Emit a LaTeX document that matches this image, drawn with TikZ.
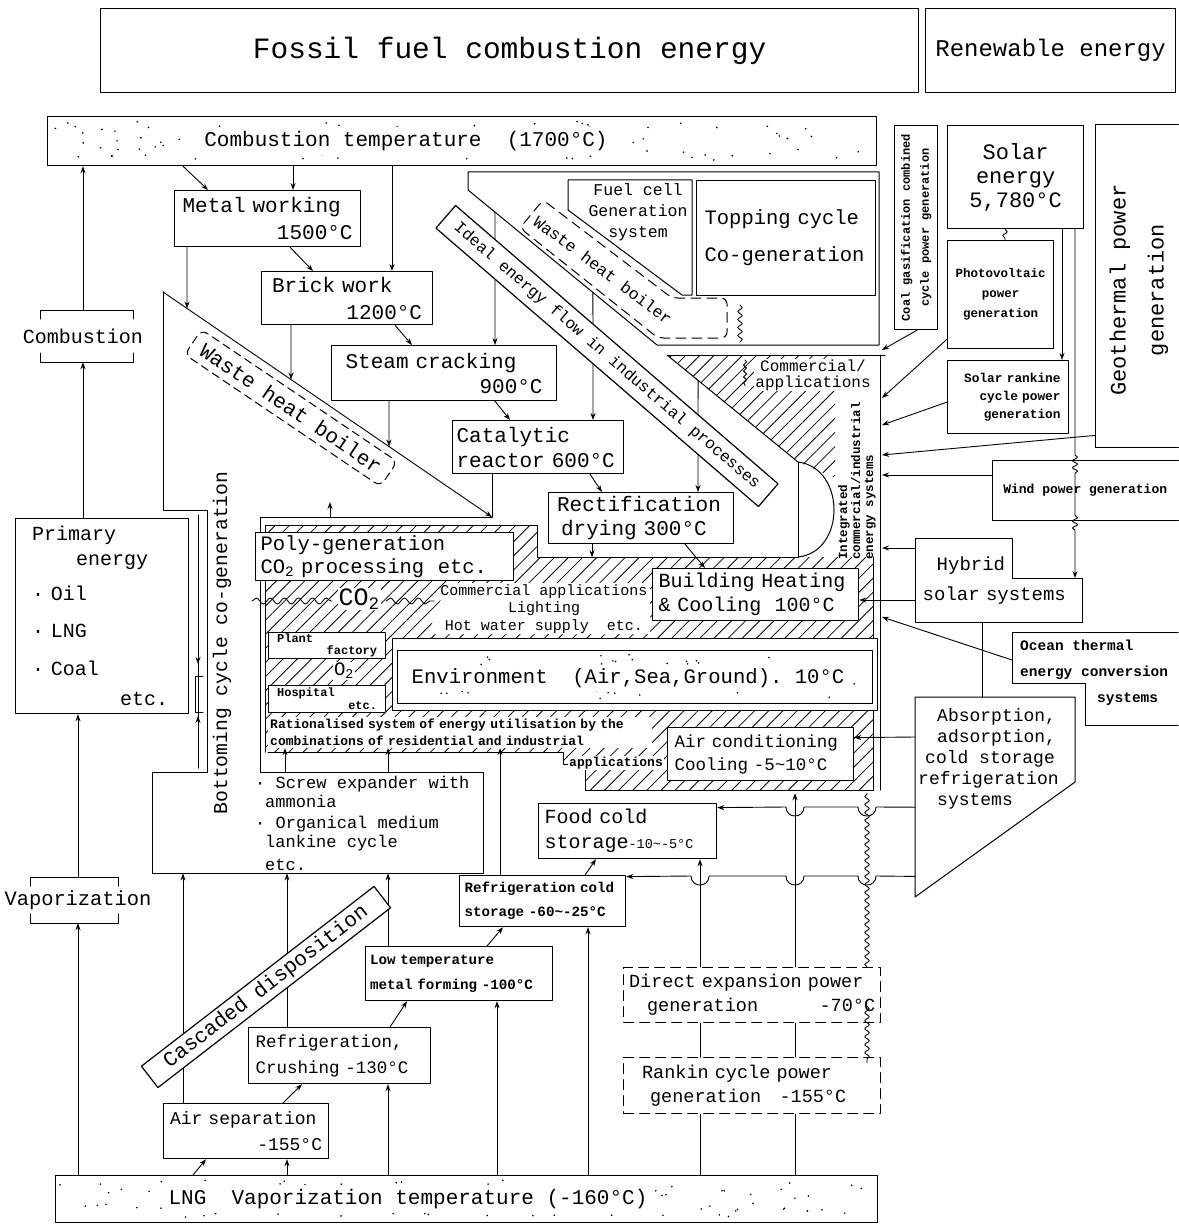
\documentclass[tikz,border=0pt]{standalone}
\usepackage{fontspec}
\setmainfont{Liberation Mono}
\usetikzlibrary{arrows.meta,calc,patterns.meta,decorations.pathmorphing}

\newcommand\fz[2]{\fontsize{#1}{#2}\selectfont}
\newcommand\speckle[5]{%
  \foreach \spk in {1,...,#5}{%
    \pgfmathsetmacro\sx{#1+rnd*(#3-#1)}%
    \pgfmathsetmacro\sy{#2+rnd*(#4-#2)}%
    \fill (\sx,\sy) circle (0.9pt);}}

\begin{document}
\begin{tikzpicture}[
  x=1pt, y=-1pt,
  line cap=round, line join=round,
  box/.style={draw, line width=1.2pt, fill=white, inner sep=0pt, anchor=north west},
  dbox/.style={box, dash pattern=on 10pt off 6pt},
  area/.style={inner sep=0pt, anchor=north west},
  txt/.style={inner sep=0pt, align=left},
  band/.style={draw, line width=1.2pt, fill=white, inner sep=0pt},
  ln/.style={line width=1pt},
  arr/.style={-{Stealth[length=7pt,width=5pt]}, line width=0.9pt},
  hatch/.style={pattern={Lines[angle=45,distance=10pt,line width=0.8pt]}},
  wavy/.style={line width=0.9pt, decorate, decoration={snake, amplitude=2.2pt, segment length=8pt}}
]
\useasboundingbox (0,0) rectangle (1178,1225);
\pgfmathsetseed{7}

\node[box, minimum width=818pt, minimum height=84pt, font=\fz{29.5}{34}] (fossil) at (100,8) {Fossil fuel combustion energy};
\node[box, minimum width=250pt, minimum height=84pt, font=\fz{24}{28}] (renew) at (925,8) {Renewable energy};

\node[box, minimum width=829pt, minimum height=49pt] (combbar) at (47,116) {};
\speckle{52}{121}{871}{160}{95}
\node[txt, fill=white, inner sep=4pt, font=\fz{21}{25}] (combtxt) at (406,141) {Combustion temperature~~(1700°C)};
\node[box, minimum width=822pt, minimum height=47pt] (lngbar) at (55,1175) {};
\speckle{60}{1180}{872}{1217}{95}
\node[txt, fill=white, inner sep=4pt, font=\fz{21}{25}] (lngtxt) at (408,1199) {LNG~~Vaporization temperature (-160°C)};

\fill[hatch] (265,525) -- (537,525) -- (537,557) -- (873,557) -- (873,790) -- (585,790) -- (585,764) -- (563,764) -- (563,752) -- (265,752) -- cycle;
\fill[hatch] (667,355) -- (835,355) -- (835,478) -- (798,462) -- cycle;
\fill[white] (447,583) -- (650,583) -- (650,634) -- (428,634) -- cycle;

\coordinate (whbA) at (163,292);
\coordinate (whbB) at (492,517);
\coordinate (tfA) at (468,190);
\coordinate (tfB) at (657,345);
\coordinate (hA) at (667,355);
\coordinate (hB) at (798,462);
\node[area, minimum width=331pt, minimum height=101pt] (screw) at (152,772) {};
\draw[ln] (whbB) -- (260,517) -- (260,772) -- (483,772) -- (483,873) -- (152,873) -- (152,772) -- (207,772) -- (207,510) -- (163,510) -- (whbA);
\draw[arr] (whbA) -- (whbB);
\draw[ln] (265,752) -- (265,525) -- (537,525) -- (537,557) -- (798,557);
\draw[ln] (268,752) -- (563,752) -- (563,764) -- (585,764) -- (585,790) -- (873,790) -- (873,557);
\draw[ln] (198,515) -- (198,768);
\draw[arr] (198,640) -- (198,664);
\draw[arr] (198,738) -- (198,716);
\draw[ln] (203,676) -- (195,676) -- (195,712) -- (203,712);
\draw[ln] (tfA) -- (468,172) -- (879,172) -- (879,345) -- (tfB) -- cycle;
\draw[ln] (hA) -- (885,355);
\draw[ln] (hA) -- (hB) .. controls (846,468) and (846,552) .. (798,557);
\draw[ln] (hB) -- (798,557);
\draw[ln] (880,355) -- (880,790);
\draw[ln] (568,180) -- (692,180) -- (692,295) -- (682,295) -- (568,210) -- cycle;
\draw[ln, dash pattern=on 10pt off 6pt, rounded corners=6pt] (520,228) -- (543,200) -- (672,298) -- (727,298) -- (727,338) -- (658,338) -- cycle;
\draw[wavy] (740,305) -- (740,342);
\draw[wavy, decoration={amplitude=1.5pt, segment length=6pt}] (745,360) -- (745,386);

\node[txt, minimum height=52pt, font=\fz{20}{24}] (combst) at (83,336) {Combustion};
\draw[ln] (40,319) |- (133,310) -- (133,319);
\draw[ln] (40,353) |- (133,362) -- (133,353);
\node[box, minimum width=173pt, minimum height=195pt, text width=140pt, align=left, font=\fz{20}{25}] (primary) at (15,518) {Primary\\\hspace*{44pt}energy\\[10pt]· Oil\\[12pt]· LNG\\[13pt]· Coal\\[5pt]\hspace*{88pt}etc.};
\node[txt, minimum height=46pt, font=\fz{20.4}{24}] (vapor) at (78,900) {Vaporization};
\draw[ln] (30,886) |- (118,877) -- (118,886);
\draw[ln] (30,914) |- (118,923) -- (118,914);
\draw[arr] (combst.north) -- (combbar.south -| combst.north);
\draw[arr] (primary.north -| combst.south) -- (combst.south);
\draw[arr] (vapor.north) -- (primary.south -| vapor.north);
\draw[arr] (lngbar.north -| vapor.south) -- (vapor.south);

\node[box, minimum width=186pt, minimum height=56pt, text width=170pt, align=left, font=\fz{21}{27}] (metal) at (174,190) {Metal working\\\mbox{}\hfill1500°C};
\node[box, minimum width=171pt, minimum height=53pt, text width=150pt, align=left, font=\fz{21}{27}] (brick) at (261,271) {Brick work\\\mbox{}\hfill1200°C};
\node[box, minimum width=225pt, minimum height=55pt, text width=197pt, align=left, font=\fz{21}{25}] (steam) at (331,345) {Steam cracking\\\mbox{}\hfill900°C};
\node[box, minimum width=171pt, minimum height=53pt, text width=163pt, align=left, font=\fz{21}{25}] (catal) at (452,420) {Catalytic\\reactor 600°C};
\node[box, minimum width=185pt, minimum height=51pt, text width=168pt, align=left, font=\fz{21}{24}] (rectif) at (548,492) {Rectification\\\hspace*{4pt}drying 300°C};
\node[box, minimum width=179pt, minimum height=115pt, text width=163pt, align=left, font=\fz{20.5}{37}] (topping) at (696,180) {Topping cycle\\Co-generation};
\node[txt, align=center, font=\fz{16.5}{21}] (fuel) at (638,212) {Fuel cell\\Generation\\system};
\node[rotate=-37, font=\fz{16.5}{20}] (whbu) at (603,270) {Waste heat boiler};
\node[draw, dash pattern=on 8pt off 5pt, line width=1pt, rounded corners=7pt, rotate=-34, minimum width=236pt, minimum height=30pt, inner sep=1pt, font=\fz{21}{25}] (whbl) at (291,408) {Waste heat boiler};
\node[rotate=90, font=\fz{19.7}{24}] (botcyc) at (222,643) {Bottoming cycle co-generation};
\node[txt, anchor=north west, font=\fz{17}{19}] (screwtxt) at (255,776) {· Screw expander with\\\hspace*{10pt}ammonia\\[2pt]· Organical medium\\\hspace*{10pt}lankine cycle\\[4pt]\hspace*{10pt}etc.};

\node[box, minimum width=258pt, minimum height=48pt, text width=248pt, align=left, font=\fz{20.5}{23}] (poly) at (255,532) {Poly-generation\\CO\textsubscript{2} processing~~etc.};
\node[txt, align=center, font=\fz{15}{17.5}] (commtxt) at (544,609) {Commercial applications\\Lighting\\Hot water supply~~etc.};
\draw[wavy, decoration={amplitude=3pt, segment length=14pt}] (252,601) -- (332,601);
\draw[wavy, decoration={amplitude=3pt, segment length=14pt}] (386,601) -- (434,601);
\node[txt, fill=white, inner sep=1pt, font=\fz{25}{25}] (co2) at (359,599) {CO\textsubscript{2}};
\node[box, minimum width=117pt, minimum height=26pt, text width=100pt, align=left, font=\bfseries\fz{12}{12}] (plant) at (268,632) {Plant\\\mbox{}\hfill factory};
\node[txt, fill=white, inner sep=1pt, font=\fz{19}{19}] (o2) at (344,671) {O\textsubscript{2}};
\node[box, minimum width=117pt, minimum height=27pt, text width=100pt, align=left, font=\bfseries\fz{12}{13}] (hosp) at (268,685) {Hospital\\\mbox{}\hfill etc.};
\node[box, minimum width=485pt, minimum height=72pt] (envout) at (392,638) {};
\node[box, minimum width=475pt, minimum height=53pt] (env) at (397,650) {};
\speckle{402}{654}{867}{699}{55}
\node[txt, fill=white, inner sep=3pt, font=\fz{20.6}{24}] (envtxt) at (628,678) {Environment~~(Air,Sea,Ground).~10°C};
\node[txt, anchor=north west, fill=white, inner sep=2pt, text width=380pt, font=\bfseries\fz{13}{17}] (ration) at (268,717) {Rationalised system of energy utilisation by the\\combinations of residential and industrial};
\node[txt, fill=white, inner sep=1pt, font=\bfseries\fz{13}{15}] (applic) at (616,763) {applications};
\node[txt, fill=white, inner sep=1pt, align=center, font=\fz{16}{16}] (comm) at (813,375) {Commercial/\\applications};
\node[box, minimum width=206pt, minimum height=52pt, text width=194pt, align=left, font=\fz{20}{24}] (bldg) at (652,568) {Building Heating\\\&~Cooling~~100°C};
\node[box, minimum width=186pt, minimum height=53pt, text width=172pt, align=left, font=\fz{17.5}{23}] (aircon) at (667,727) {Air conditioning\\Cooling -5\textasciitilde10°C};
\node[box, minimum width=178pt, minimum height=55pt, text width=166pt, align=left, font=\fz{20}{25}] (food) at (538,803) {Food cold\\storage{\fz{13.5}{15}-10\textasciitilde-5°C}};
\node[box, minimum width=166pt, minimum height=51pt, text width=156pt, align=left, font=\bfseries\fz{14.2}{24}] (refcs) at (459,875) {Refrigeration cold\\storage -60\textasciitilde-25°C};
\node[box, minimum width=187pt, minimum height=54pt, text width=178pt, align=left, font=\bfseries\fz{14.2}{25}] (lowt) at (365,946) {Low temperature\\metal forming -100°C};
\node[box, minimum width=182pt, minimum height=56pt, text width=168pt, align=left, font=\fz{17.5}{26}] (refcr) at (248,1027) {Refrigeration,\\Crushing -130°C};
\node[box, minimum width=165pt, minimum height=55pt, text width=152pt, align=left, font=\fz{18}{26}] (airsep) at (163,1103) {Air separation\\\mbox{}\hfill-155°C};
\node[dbox, minimum width=257pt, minimum height=55pt, text width=246pt, align=left, font=\fz{18.5}{24}] (direct) at (623,967) {Direct expansion power\\\hspace*{18pt}generation\hfill-70°C};
\node[dbox, minimum width=257pt, minimum height=56pt, text width=240pt, align=left, font=\fz{18.5}{24}] (rankin) at (623,1057) {\hspace*{10pt}Rankin cycle power\\\hspace*{18pt}generation~~~-155°C};

\node[box, minimum width=43pt, minimum height=204pt] (coal) at (894,125) {};
\node[rotate=90, align=center, font=\bfseries\fz{12}{19}] (coaltxt) at (coal.center) {Coal gasification combined\\cycle power generation};
\node[box, minimum width=136pt, minimum height=103pt, align=center, font=\fz{22}{24}] (solar) at (947,125) {Solar\\energy\\5,780°C};
\node[box, minimum width=106pt, minimum height=108pt, align=center, font=\bfseries\fz{12.5}{20}] (pv) at (947,240) {Photovoltaic\\power\\generation};
\node[box, minimum width=121pt, minimum height=73pt, text width=105pt, align=right, font=\bfseries\fz{12.8}{18}] (srank) at (947,360) {Solar rankine\\cycle power\\generation};
\node[area, minimum width=83pt, minimum height=322pt] (geo) at (1095,125) {};
\draw[ln] (geo.north east) -- (geo.north west) -- (geo.south west) -- (geo.south east);
\node[rotate=90, align=center, font=\fz{22}{38}] (geotxt) at (1139,290) {Geothermal power\\generation};
\node[area, minimum width=186pt, minimum height=60pt, font=\bfseries\fz{13}{15}] (wind) at (992,460) {Wind power generation};
\draw[ln] (wind.north east) -- (wind.north west) -- (wind.south west) -- (wind.south east);
\node[area, minimum width=167pt, minimum height=84pt, text width=152pt, align=left, font=\fz{19}{30}] (hyb) at (915,538) {\hspace*{14pt}Hybrid\\solar systems};
\draw[ln] (915,538) -- (1012,538) -- (1012,578) -- (1082,578) -- (1082,622) -- (915,622) -- cycle;
\node[area, minimum width=166pt, minimum height=93pt] (ocean) at (1012,632) {};
\draw[ln] (1178,632) -- (1012,632) -- (1012,683) -- (1085,683) -- (1085,725) -- (1178,725);
\node[txt, anchor=north west, font=\bfseries\fz{14.5}{26}] (oceantxt) at (1020,640) {Ocean thermal\\energy conversion\\\hspace*{77pt}systems};
\node[area, minimum width=160pt, minimum height=200pt] (absorb) at (915,697) {};
\draw[ln] (915,697) -- (1075,697) -- (1075,782) -- (915,897) -- cycle;
\node[txt, anchor=north west, font=\fz{18}{21}] (abstxt) at (918,708) {\hspace*{19pt}Absorption,\\\hspace*{19pt}adsorption,\\\hspace*{7pt}cold storage\\refrigeration\\\hspace*{19pt}systems};
\node[rotate=90, align=left, font=\bfseries\fz{12.5}{13}] (integ) at (857,481) {Integrated\\commercial/industrial\\energy systems};

\draw[arr] ([xshift=136pt]combbar.south west) -- ([xshift=34pt]metal.north west);
\draw[arr] ([xshift=246pt]combbar.south west) -- ([xshift=119pt]metal.north west);
\draw[arr] ([xshift=345pt]combbar.south west) -- ([xshift=131pt]brick.north west);
\draw[arr] ([xshift=116pt]metal.south west) -- ([xshift=52pt]brick.north west);
\draw[arr] ([xshift=134pt]brick.south west) -- ([xshift=81pt]steam.north west);
\draw[arr] ([xshift=164pt]steam.south west) -- ([xshift=58pt]catal.north west);
\draw[arr] ([xshift=138pt]catal.south west) -- ([xshift=54pt]rectif.north west);
\draw[arr] ([xshift=137pt]rectif.south west) -- ([xshift=53pt]bldg.north west);
\draw[arr] ([xshift=13pt]metal.south west) -- ($(whbA)!0.073!(whbB)$);
\draw[arr] ([xshift=30pt]brick.south west) -- ($(whbA)!0.389!(whbB)$);
\draw[arr] ([xshift=58pt]steam.south west) -- ($(whbA)!0.687!(whbB)$);
\draw[ln] ([xshift=40pt]catal.south west) -- (whbB);
\draw[arr] ([xshift=44pt]rectif.south west) -- ([xshift=44pt,yshift=-13pt]rectif.south west);
\draw[arr] ($(tfA)!0.143!(tfB)$) -- ([xshift=164pt]steam.north west);
\draw[arr] ($(tfA)!0.661!(tfB)$) -- ([xshift=141pt]catal.north west);
\draw[arr] ($(hA)!0.237!(hB)$) -- ([xshift=150pt]rectif.north west);
\draw[arr] ([xshift=75pt,yshift=15pt]poly.north west) -- ([xshift=75pt,yshift=30pt]poly.north west);

\draw[arr] ([xshift=138pt]lngbar.north west) -- ([xshift=43pt]airsep.south west);
\draw[arr] ([xshift=232pt]lngbar.north west) -- ([xshift=124pt]airsep.south west);
\draw[arr] ([xshift=120pt]airsep.north west) -- ([xshift=54pt]refcr.south west);
\draw[arr] ([xshift=333pt]lngbar.north west) -- ([xshift=140pt]refcr.south west);
\draw[arr] ([xshift=142pt]refcr.north west) -- ([xshift=42pt]lowt.south west);
\draw[arr] ([xshift=442pt]lngbar.north west) -- ([xshift=132pt]lowt.south west);
\draw[arr] ([xshift=122pt]lowt.north west) -- ([xshift=44pt]refcs.south west);
\draw[arr] ([xshift=533pt]lngbar.north west) -- ([xshift=129pt]refcs.south west);
\draw[arr] ([xshift=126pt]refcs.north west) -- ([xshift=58pt]food.south west);
\draw[arr] ([xshift=41pt]refcs.north west) -- ([xshift=232pt]ration.south west);
\draw[arr] ([xshift=20pt]airsep.north west) -- ([xshift=31pt]screw.south west);
\draw[arr] ([xshift=39pt]refcr.north west) -- ([xshift=135pt]screw.south west);
\draw[arr] ([xshift=23pt]lowt.north west) -- ([xshift=236pt]screw.south west);
\draw[arr] ([xshift=133pt]screw.north west) -- ([xshift=17pt]ration.south west);
\draw[arr] ([xshift=236pt]screw.north west) -- ([xshift=120pt]ration.south west);

\draw[arr] ([xshift=77pt]direct.north west) -- ([xshift=162pt]food.south west);
\draw[arr] ([xshift=172pt]direct.north west) -- ([xshift=128pt,yshift=-12pt]aircon.south west);
\draw[wavy] ([xshift=244pt]direct.north west) -- ([xshift=200pt,yshift=-12pt]aircon.south west);
\draw[ln] ([xshift=77pt]direct.south west) -- ([xshift=77pt]rankin.north west);
\draw[ln] ([xshift=172pt]direct.south west) -- ([xshift=172pt]rankin.north west);
\draw[wavy] ([xshift=244pt,yshift=17pt]direct.south west) -- ([xshift=244pt,yshift=-6pt]rankin.north west);
\draw[ln] ([xshift=77pt]rankin.south west) -- ([xshift=645pt]lngbar.north west);
\draw[ln] ([xshift=172pt]rankin.south west) -- ([xshift=740pt]lngbar.north west);
\draw[arr] ([yshift=-10pt]absorb.west) -- (876,807) .. controls (876,819) and (858,819) .. (858,807) -- (804,807) .. controls (804,819) and (786,819) .. (786,807) -- ([yshift=23.5pt]food.east);
\draw[arr] ([yshift=21pt]absorb.south west) -- (876,876) .. controls (876,888) and (858,888) .. (858,876) -- (804,876) .. controls (804,888) and (786,888) .. (786,876) -- (709,876) .. controls (709,888) and (691,888) .. (691,876) -- ([yshift=24.5pt]refcs.east);

\coordinate (bus1) at (882,350);
\coordinate (bus2) at (882,398);
\coordinate (bus3) at (882,425);
\coordinate (bus4) at (882,455);
\coordinate (bus5) at (882,475);
\coordinate (bus6) at (882,548);
\coordinate (bus7) at (882,617);
\draw[arr] ([xshift=23pt]coal.south west) -- (bus1);
\draw[arr] ([yshift=10pt]pv.south west) -- (bus2);
\draw[arr] ([yshift=-5pt]srank.west) -- (bus3);
\draw[arr] ([yshift=12pt]geo.south west) -- (bus4);
\draw[arr] ([yshift=-15pt]wind.north west) -- (bus5);
\draw[arr] ([yshift=-10pt]hyb.north west) -- (bus6);
\draw[arr] ([yshift=-62pt]hyb.north west) -- ([yshift=-32pt]bldg.north east);
\draw[arr] ([yshift=-28pt]ocean.north west) -- (bus7);
\draw[arr] ([yshift=-40pt]absorb.north west) -- ([yshift=16.5pt]aircon.east);
\draw[ln] ([xshift=67pt]hyb.south west) -- ([xshift=67pt]absorb.north west);
\draw[wavy] ([xshift=58pt]solar.south west) -- ([xshift=58pt]pv.north west);
\draw[arr] ([xshift=115pt]solar.south west) -- ([xshift=115pt]srank.north west);
\draw[arr, decoration={snake, amplitude=2.5pt, segment length=7pt}] ([xshift=128pt]solar.south west) -- ([xshift=83pt,yshift=5pt]wind.north west) decorate{-- ([xshift=83pt,yshift=-15pt]wind.north west)} -- ([xshift=83pt,yshift=5pt]wind.south west) decorate{-- ([xshift=83pt,yshift=-10pt]wind.south west)} -- ([xshift=160pt,yshift=-40pt]hyb.north west);

\node[band, rotate=-40.8, minimum width=426pt, minimum height=30pt, font=\fz{16.2}{20}] (ideal) at (607,356) {Ideal energy flow in industrial processes};
\node[band, rotate=37.7, minimum width=294pt, minimum height=27pt, font=\fz{21}{25}] (casc) at (266,987) {Cascaded disposition};
\end{tikzpicture}
\end{document}
